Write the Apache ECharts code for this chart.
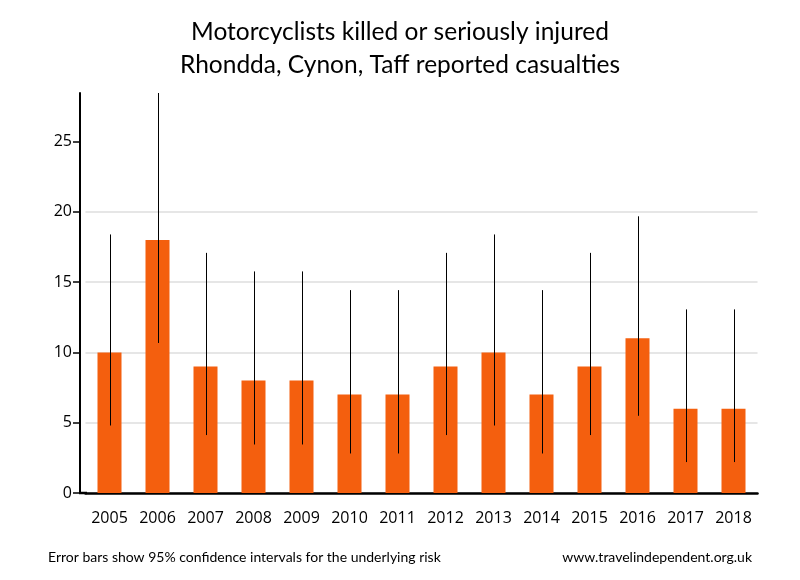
<!DOCTYPE html>
<html><head><meta charset="utf-8">
<script src="https://cdn.jsdelivr.net/npm/echarts@6/dist/echarts.min.js"></script>
<style>html,body{margin:0;padding:0;background:#fff}#c{width:800px;height:580px}</style>
</head><body><div id="c"></div>
<script>
const years = ['2005','2006','2007','2008','2009','2010','2011','2012','2013','2014','2015','2016','2017','2018'];
const casualties = [10,18,9,8,8,7,7,9,10,7,9,11,6,6];
const ciLow  = [4.8,10.67,4.12,3.45,3.45,2.81,2.81,4.12,4.8,2.81,4.12,5.49,2.2,2.2];
const ciHigh = [18.39,28.45,17.08,15.76,15.76,14.43,14.43,17.08,18.39,14.43,17.08,19.68,13.06,13.06];
const yTicks = [0,5,10,15,20,25];

const chart = echarts.init(document.getElementById('c'), null, {renderer:'canvas'});
const errData = years.map((y,i)=>[i, ciLow[i], ciHigh[i]]);
const font = 'Open Sans';
chart.setOption({
  animation:false,
  backgroundColor:'#fff',
  title:[
    {text:'Motorcyclists killed or seriously injured\nRhondda, Cynon, Taff reported casualties', left:'center', top:11,
     textStyle:{fontFamily:'Lato', fontSize:24.5, fontWeight:'normal', color:'#000', lineHeight:33}},
    {text:'Error bars show 95% confidence intervals for the underlying risk', left:43, top:545,
     textStyle:{fontFamily:'Lato', fontSize:14, fontWeight:'normal', color:'#000'}},
    {text:'www.travelindependent.org.uk', right:43, top:545,
     textStyle:{fontFamily:'Lato', fontSize:14, fontWeight:'normal', color:'#000'}}
  ],
  graphic:[
    {type:'line', shape:{x1:79, y1:493, x2:87, y2:493}, style:{stroke:'#000', lineWidth:2.5}, z:10}
  ],
  grid:{left:85.5, right:42.5, top:93, bottom:87},
  xAxis:{type:'category', data:years,
    axisLine:{lineStyle:{color:'#000', width:2.5}},
    axisTick:{show:false},
    axisLabel:{fontFamily:font, fontSize:16, color:'#000', margin:17}},
  yAxis:{type:'value', min:0, max:28.45, interval:5, offset:5.5,
    axisLine:{show:true, lineStyle:{color:'#000', width:2}},
    axisTick:{show:true, length:7, lineStyle:{color:'#000', width:1.5}, customValues:yTicks},
    axisLabel:{fontFamily:font, fontSize:16, color:'#000', margin:8, customValues:yTicks},
    splitLine:{show:true, showMaxLine:false, lineStyle:{color:'#e6e6e6', width:2}}},
  series:[
    {type:'bar', data:casualties, barWidth:'50%', itemStyle:{color:'#f45f0e'}},
    {type:'custom', data:errData, z:5,
     renderItem:function(params, api){
       const p1 = api.coord([api.value(0), api.value(1)]);
       const p2 = api.coord([api.value(0), api.value(2)]);
       return {type:'line', shape:{x1:Math.round(p1[0])+0.5, y1:p1[1], x2:Math.round(p2[0])+0.5, y2:p2[1]},
               style:{stroke:'#000', lineWidth:1}};
     }}
  ]
});
</script></body></html>
